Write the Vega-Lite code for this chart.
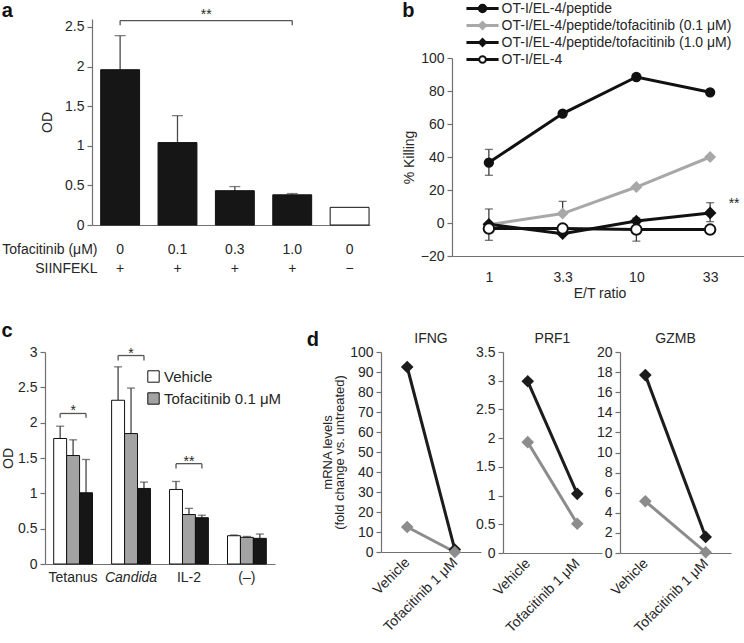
{
  "$schema": "https://vega.github.io/schema/vega-lite/v6.json",
  "padding": 0,
  "background": "white",
  "config": {
    "font": "Liberation Sans",
    "view": {"stroke": null},
    "axis": {"grid": false, "domainColor": "#707070", "tickColor": "#707070", "domainWidth": 1.2, "tickWidth": 1.2, "labelColor": "#262626", "titleColor": "#262626", "labelFontSize": 14, "titleFontSize": 14, "titleFontWeight": "normal", "labelFont": "Liberation Sans", "titleFont": "Liberation Sans", "tickSize": 5, "labelPadding": 3, "labelOverlap": false},
    "legend": {"labelFont": "Liberation Sans", "labelFontSize": 14, "labelColor": "#262626", "padding": 0, "labelLimit": 400},
    "title": {"font": "Liberation Sans", "fontSize": 20, "fontWeight": "bold", "color": "#111111", "anchor": "start", "frame": "bounds", "baseline": "alphabetic"},
    "text": {"font": "Liberation Sans", "color": "#262626"}
  },
  "datasets": {
    "empty": [],
    "a": [
      {"key": "0 +", "tofacitinib": "0", "pep": "+", "od": 1.96, "hi": 2.39},
      {"key": "0.1 +", "tofacitinib": "0.1", "pep": "+", "od": 1.04, "hi": 1.38},
      {"key": "0.3 +", "tofacitinib": "0.3", "pep": "+", "od": 0.433, "hi": 0.485},
      {"key": "1.0 +", "tofacitinib": "1.0", "pep": "+", "od": 0.381, "hi": 0.397},
      {"key": "0 −", "tofacitinib": "0", "pep": "−", "od": 0.223, "hi": null}
    ],
    "abr": [{"from": "0 +", "to": "1.0 +", "mid": "0.1 +", "y": 2.58, "yl": 2.52, "label": "**"}],
    "bleg": [
      {"series": "OT-I/EL-4/peptide"},
      {"series": "OT-I/EL-4/peptide/tofacitinib (0.1 μM)"},
      {"series": "OT-I/EL-4/peptide/tofacitinib (1.0 μM)"},
      {"series": "OT-I/EL-4"}
    ],
    "b": [
      {"series": "OT-I/EL-4/peptide", "et": "1", "val": 36.6},
      {"series": "OT-I/EL-4/peptide", "et": "3.3", "val": 66.3},
      {"series": "OT-I/EL-4/peptide", "et": "10", "val": 88.5},
      {"series": "OT-I/EL-4/peptide", "et": "33", "val": 79.2},
      {"series": "OT-I/EL-4/peptide/tofacitinib (0.1 μM)", "et": "1", "val": -1},
      {"series": "OT-I/EL-4/peptide/tofacitinib (0.1 μM)", "et": "3.3", "val": 5.7},
      {"series": "OT-I/EL-4/peptide/tofacitinib (0.1 μM)", "et": "10", "val": 21.8},
      {"series": "OT-I/EL-4/peptide/tofacitinib (0.1 μM)", "et": "33", "val": 40},
      {"series": "OT-I/EL-4/peptide/tofacitinib (1.0 μM)", "et": "1", "val": -0.8},
      {"series": "OT-I/EL-4/peptide/tofacitinib (1.0 μM)", "et": "3.3", "val": -6.5},
      {"series": "OT-I/EL-4/peptide/tofacitinib (1.0 μM)", "et": "10", "val": 1.2},
      {"series": "OT-I/EL-4/peptide/tofacitinib (1.0 μM)", "et": "33", "val": 6.1},
      {"series": "OT-I/EL-4", "et": "1", "val": -3.4},
      {"series": "OT-I/EL-4", "et": "3.3", "val": -3.4},
      {"series": "OT-I/EL-4", "et": "10", "val": -4},
      {"series": "OT-I/EL-4", "et": "33", "val": -4}
    ],
    "berr": [
      {"series": "OT-I/EL-4/peptide", "et": "1", "lo": 28.9, "hi": 44.6},
      {"series": "OT-I/EL-4/peptide/tofacitinib (0.1 μM)", "et": "3.3", "lo": 5.7, "hi": 13.1},
      {"series": "OT-I/EL-4/peptide/tofacitinib (1.0 μM)", "et": "1", "lo": -10.5, "hi": 8.5},
      {"series": "OT-I/EL-4/peptide/tofacitinib (1.0 μM)", "et": "33", "lo": 0.8, "hi": 12.3},
      {"series": "OT-I/EL-4", "et": "10", "lo": -11, "hi": 3}
    ],
    "bstar": [{"et": "33", "y": 8.9, "label": "**"}],
    "c": [
      {"cat": "Tetanus", "trt": "Vehicle", "od": 1.776, "hi": 1.95},
      {"cat": "Tetanus", "trt": "Tofacitinib 0.1 μM", "od": 1.535, "hi": 1.757},
      {"cat": "Tetanus", "trt": "Tofacitinib 1.0 μM", "od": 1.008, "hi": 1.479},
      {"cat": "Candida", "trt": "Vehicle", "od": 2.317, "hi": 2.79},
      {"cat": "Candida", "trt": "Tofacitinib 0.1 μM", "od": 1.846, "hi": 2.49},
      {"cat": "Candida", "trt": "Tofacitinib 1.0 μM", "od": 1.069, "hi": 1.159},
      {"cat": "IL-2", "trt": "Vehicle", "od": 1.055, "hi": 1.168},
      {"cat": "IL-2", "trt": "Tofacitinib 0.1 μM", "od": 0.70, "hi": 0.787},
      {"cat": "IL-2", "trt": "Tofacitinib 1.0 μM", "od": 0.655, "hi": 0.69},
      {"cat": "(–)", "trt": "Vehicle", "od": 0.40, "hi": 0.41},
      {"cat": "(–)", "trt": "Tofacitinib 0.1 μM", "od": 0.377, "hi": 0.39},
      {"cat": "(–)", "trt": "Tofacitinib 1.0 μM", "od": 0.363, "hi": 0.424}
    ],
    "cbr": [
      {"cat": "Tetanus", "y": 2.13, "yl": 2.068, "label": "*"},
      {"cat": "Candida", "y": 2.95, "yl": 2.88, "label": "*"},
      {"cat": "IL-2", "y": 1.42, "yl": 1.35, "label": "**"}
    ],
    "d": [
      {"gene": "IFNG", "cond": "Vehicle", "grp": "Donor A", "val": 92.5},
      {"gene": "IFNG", "cond": "Tofacitinib 1 μM", "grp": "Donor A", "val": 1.2},
      {"gene": "PRF1", "cond": "Vehicle", "grp": "Donor A", "val": 2.99},
      {"gene": "PRF1", "cond": "Tofacitinib 1 μM", "grp": "Donor A", "val": 1.03},
      {"gene": "GZMB", "cond": "Vehicle", "grp": "Donor A", "val": 17.7},
      {"gene": "GZMB", "cond": "Tofacitinib 1 μM", "grp": "Donor A", "val": 1.6},
      {"gene": "IFNG", "cond": "Vehicle", "grp": "Donor B", "val": 12.5},
      {"gene": "IFNG", "cond": "Tofacitinib 1 μM", "grp": "Donor B", "val": 0},
      {"gene": "PRF1", "cond": "Vehicle", "grp": "Donor B", "val": 1.93},
      {"gene": "PRF1", "cond": "Tofacitinib 1 μM", "grp": "Donor B", "val": 0.51},
      {"gene": "GZMB", "cond": "Vehicle", "grp": "Donor B", "val": 5.15},
      {"gene": "GZMB", "cond": "Tofacitinib 1 μM", "grp": "Donor B", "val": 0.07}
    ]
  },
  "align": "none",
  "bounds": "full",
  "spacing": 21,
  "resolve": {
    "scale": {"fill": "independent", "stroke": "independent", "shape": "independent", "size": "independent", "color": "independent"},
    "legend": {"fill": "independent", "stroke": "independent", "shape": "independent", "size": "independent", "color": "independent"}
  },
  "vconcat": [
    {
      "align": "none",
      "bounds": "full",
      "spacing": 0,
      "resolve": {
        "scale": {"fill": "independent", "stroke": "independent", "shape": "independent", "size": "independent", "color": "independent"},
        "legend": {"fill": "independent", "stroke": "independent", "shape": "independent", "size": "independent", "color": "independent"}
      },
      "hconcat": [
        {"width": 1, "height": 1, "data": {"name": "empty"}, "mark": "point"},
        {
          "align": "none",
          "bounds": "full",
          "spacing": 32,
          "resolve": {
            "scale": {"fill": "independent", "stroke": "independent", "shape": "independent", "size": "independent", "color": "independent"},
            "legend": {"fill": "independent", "stroke": "independent", "shape": "independent", "size": "independent", "color": "independent"}
          },
          "hconcat": [
            {
              "title": {"text": "a", "offset": -20.5},
              "align": "none",
              "bounds": "full",
              "spacing": 6,
              "resolve": {
                "scale": {"fill": "independent"},
                "legend": {"fill": "independent"}
              },
              "vconcat": [
                {"width": 1, "height": 1, "data": {"name": "empty"}, "mark": "point"},
                {
                  "width": 278,
                  "height": 206,
                  "data": {"name": "a"},
                  "layer": [
                    {
                      "transform": [{"filter": "datum.hi != null"}],
                      "mark": {"type": "rule", "color": "#4a4a4a", "strokeWidth": 1.3},
                      "encoding": {
                        "x": {"field": "key", "type": "nominal", "scale": {"domain": ["0 +", "0.1 +", "0.3 +", "1.0 +", "0 −"], "paddingInner": 0.322, "paddingOuter": 0.084, "align": 0.9}, "axis": {"title": ["Tofacitinib (μM)", "SIINFEKL"], "titleAlign": "right", "titleAnchor": "start", "titleX": 5, "titleY": 17, "titleBaseline": "top", "titleLineHeight": 19, "titleAngle": 0, "labelExpr": "split(datum.value, ' ')", "labelLineHeight": 19, "labelPadding": 17, "labelBaseline": "top", "ticks": false, "labelAngle": 0}},
                        "y": {"field": "od", "type": "quantitative", "title": "OD", "scale": {"domain": [0, 2.5]}, "axis": {"values": [0, 0.5, 1, 1.5, 2, 2.5], "format": "~g", "title": "OD", "titlePadding": 10}},
                        "y2": {"field": "hi"}
                      }
                    },
                    {
                      "transform": [{"filter": "datum.hi != null"}],
                      "mark": {"type": "tick", "orient": "horizontal", "size": 11, "thickness": 1.3, "color": "#4a4a4a"},
                      "encoding": {
                        "x": {"field": "key", "type": "nominal", "scale": {"domain": ["0 +", "0.1 +", "0.3 +", "1.0 +", "0 −"]}},
                        "y": {"field": "hi", "type": "quantitative", "title": "OD"}
                      }
                    },
                    {
                      "mark": {"type": "bar", "stroke": "#111111", "strokeWidth": 1},
                      "encoding": {
                        "x": {"field": "key", "type": "nominal", "scale": {"domain": ["0 +", "0.1 +", "0.3 +", "1.0 +", "0 −"]}},
                        "y": {"field": "od", "type": "quantitative", "title": "OD"},
                        "fill": {"field": "pep", "type": "nominal", "scale": {"domain": ["+", "−"], "range": ["#161616", "#ffffff"]}, "legend": null}
                      }
                    },
                    {
                      "data": {"name": "abr"},
                      "mark": {"type": "rule", "color": "#555555", "strokeWidth": 1.3},
                      "encoding": {
                        "x": {"field": "from", "type": "nominal", "scale": {"domain": ["0 +", "0.1 +", "0.3 +", "1.0 +", "0 −"]}},
                        "x2": {"field": "to"},
                        "y": {"field": "y", "type": "quantitative", "title": "OD"}
                      }
                    },
                    {
                      "data": {"name": "abr"},
                      "mark": {"type": "rule", "color": "#555555", "strokeWidth": 1.3},
                      "encoding": {
                        "x": {"field": "from", "type": "nominal", "scale": {"domain": ["0 +", "0.1 +", "0.3 +", "1.0 +", "0 −"]}},
                        "y": {"field": "y", "type": "quantitative", "title": "OD"},
                        "y2": {"field": "yl"}
                      }
                    },
                    {
                      "data": {"name": "abr"},
                      "mark": {"type": "rule", "color": "#555555", "strokeWidth": 1.3},
                      "encoding": {
                        "x": {"field": "to", "type": "nominal", "scale": {"domain": ["0 +", "0.1 +", "0.3 +", "1.0 +", "0 −"]}},
                        "y": {"field": "y", "type": "quantitative", "title": "OD"},
                        "y2": {"field": "yl"}
                      }
                    },
                    {
                      "data": {"name": "abr"},
                      "mark": {"type": "text", "fontSize": 14, "baseline": "alphabetic", "dy": -2},
                      "encoding": {
                        "x": {"field": "mid", "type": "nominal", "bandPosition": 1.237, "scale": {"domain": ["0 +", "0.1 +", "0.3 +", "1.0 +", "0 −"]}},
                        "y": {"field": "y", "type": "quantitative", "title": "OD"},
                        "text": {"field": "label"}
                      }
                    }
                  ]
                }
              ]
            },
            {
              "title": {"text": "b", "offset": -20.5},
              "align": "none",
              "bounds": "full",
              "spacing": -17,
              "resolve": {
                "scale": {"fill": "independent", "stroke": "independent", "shape": "independent", "size": "independent"},
                "legend": {"fill": "independent", "stroke": "independent", "shape": "independent", "size": "independent"}
              },
              "vconcat": [
                {
                  "width": 295,
                  "height": 68,
                  "data": {"name": "bleg"},
                  "encoding": {
                    "y": {"field": "series", "type": "nominal", "scale": {"type": "point", "domain": ["OT-I/EL-4/peptide", "OT-I/EL-4/peptide/tofacitinib (0.1 μM)", "OT-I/EL-4/peptide/tofacitinib (1.0 μM)", "OT-I/EL-4"], "padding": 0.5}, "axis": null}
                  },
                  "layer": [
                    {
                      "mark": {"type": "rule", "strokeWidth": 3},
                      "encoding": {
                        "x": {"datum": 0.049, "type": "quantitative", "scale": {"domain": [0, 1]}, "axis": null},
                        "x2": {"datum": 0.158},
                        "stroke": {"field": "series", "type": "nominal", "scale": {"domain": ["OT-I/EL-4/peptide", "OT-I/EL-4/peptide/tofacitinib (0.1 μM)", "OT-I/EL-4/peptide/tofacitinib (1.0 μM)", "OT-I/EL-4"], "range": ["#111111", "#a8a8a8", "#111111", "#111111"]}, "legend": null}
                      }
                    },
                    {
                      "mark": {"type": "point", "strokeWidth": 2, "opacity": 1},
                      "encoding": {
                        "x": {"datum": 0.1035, "type": "quantitative", "scale": {"domain": [0, 1]}, "axis": null},
                        "stroke": {"field": "series", "type": "nominal", "scale": {"domain": ["OT-I/EL-4/peptide", "OT-I/EL-4/peptide/tofacitinib (0.1 μM)", "OT-I/EL-4/peptide/tofacitinib (1.0 μM)", "OT-I/EL-4"], "range": ["#111111", "#a8a8a8", "#111111", "#111111"]}, "legend": null},
                        "fill": {"field": "series", "type": "nominal", "scale": {"domain": ["OT-I/EL-4/peptide", "OT-I/EL-4/peptide/tofacitinib (0.1 μM)", "OT-I/EL-4/peptide/tofacitinib (1.0 μM)", "OT-I/EL-4"], "range": ["#111111", "#a8a8a8", "#111111", "#ffffff"]}, "legend": null},
                        "shape": {"field": "series", "type": "nominal", "scale": {"domain": ["OT-I/EL-4/peptide", "OT-I/EL-4/peptide/tofacitinib (0.1 μM)", "OT-I/EL-4/peptide/tofacitinib (1.0 μM)", "OT-I/EL-4"], "range": ["circle", "diamond", "diamond", "circle"]}, "legend": null},
                        "size": {"field": "series", "type": "nominal", "scale": {"domain": ["OT-I/EL-4/peptide", "OT-I/EL-4/peptide/tofacitinib (0.1 μM)", "OT-I/EL-4/peptide/tofacitinib (1.0 μM)", "OT-I/EL-4"], "range": [55, 45, 45, 45]}, "legend": null}
                      }
                    },
                    {
                      "mark": {"type": "text", "align": "left", "baseline": "middle", "fontSize": 14},
                      "encoding": {
                        "x": {"datum": 0.168, "type": "quantitative", "scale": {"domain": [0, 1]}, "axis": null},
                        "text": {"field": "series"}
                      }
                    }
                  ]
                },
                {
                  "width": 295,
                  "height": 198,
                  "layer": [
                    {
                      "data": {"name": "berr"},
                      "mark": {"type": "rule", "color": "#3a3a3a", "strokeWidth": 1.3},
                      "encoding": {
                        "x": {"field": "et", "type": "ordinal", "scale": {"type": "point", "domain": ["1", "3.3", "10", "33"], "padding": 0.5}, "axis": {"title": "E/T ratio", "ticks": false, "labelPadding": 14, "titlePadding": 2, "labelAngle": 0}},
                        "y": {"field": "lo", "type": "quantitative", "title": "% Killing", "scale": {"domain": [-20, 100]}, "axis": {"values": [-20, 0, 20, 40, 60, 80, 100], "title": "% Killing", "titlePadding": 4, "format": "d", "labelOverlap": false, "labelSeparation": 0}},
                        "y2": {"field": "hi"}
                      }
                    },
                    {
                      "data": {"name": "berr"},
                      "mark": {"type": "tick", "orient": "horizontal", "size": 8, "thickness": 1.3, "color": "#3a3a3a"},
                      "encoding": {
                        "x": {"field": "et", "type": "ordinal", "scale": {"type": "point", "domain": ["1", "3.3", "10", "33"], "padding": 0.5}, "axis": {"title": "E/T ratio", "ticks": false, "labelPadding": 14, "titlePadding": 2, "labelAngle": 0}},
                        "y": {"field": "lo", "type": "quantitative", "title": "% Killing", "scale": {"domain": [-20, 100]}, "axis": {"values": [-20, 0, 20, 40, 60, 80, 100], "title": "% Killing", "titlePadding": 4, "format": "d", "labelOverlap": false, "labelSeparation": 0}}
                      }
                    },
                    {
                      "data": {"name": "berr"},
                      "mark": {"type": "tick", "orient": "horizontal", "size": 8, "thickness": 1.3, "color": "#3a3a3a"},
                      "encoding": {
                        "x": {"field": "et", "type": "ordinal", "scale": {"type": "point", "domain": ["1", "3.3", "10", "33"], "padding": 0.5}, "axis": {"title": "E/T ratio", "ticks": false, "labelPadding": 14, "titlePadding": 2, "labelAngle": 0}},
                        "y": {"field": "hi", "type": "quantitative", "title": "% Killing", "scale": {"domain": [-20, 100]}, "axis": {"values": [-20, 0, 20, 40, 60, 80, 100], "title": "% Killing", "titlePadding": 4, "format": "d", "labelOverlap": false, "labelSeparation": 0}}
                      }
                    },
                    {
                      "data": {"name": "b"},
                      "mark": {"type": "line", "strokeWidth": 3},
                      "encoding": {
                        "x": {"field": "et", "type": "ordinal", "scale": {"type": "point", "domain": ["1", "3.3", "10", "33"], "padding": 0.5}, "axis": {"title": "E/T ratio", "ticks": false, "labelPadding": 14, "titlePadding": 2, "labelAngle": 0}},
                        "y": {"field": "val", "type": "quantitative", "title": "% Killing", "scale": {"domain": [-20, 100]}, "axis": {"values": [-20, 0, 20, 40, 60, 80, 100], "title": "% Killing", "titlePadding": 4, "format": "d", "labelOverlap": false, "labelSeparation": 0}},
                        "stroke": {"field": "series", "type": "nominal", "scale": {"domain": ["OT-I/EL-4/peptide", "OT-I/EL-4/peptide/tofacitinib (0.1 μM)", "OT-I/EL-4/peptide/tofacitinib (1.0 μM)", "OT-I/EL-4"], "range": ["#111111", "#a8a8a8", "#111111", "#111111"]}, "legend": null}
                      }
                    },
                    {
                      "data": {"name": "b"},
                      "mark": {"type": "point", "strokeWidth": 2, "opacity": 1},
                      "encoding": {
                        "x": {"field": "et", "type": "ordinal", "scale": {"type": "point", "domain": ["1", "3.3", "10", "33"], "padding": 0.5}, "axis": {"title": "E/T ratio", "ticks": false, "labelPadding": 14, "titlePadding": 2, "labelAngle": 0}},
                        "y": {"field": "val", "type": "quantitative", "title": "% Killing", "scale": {"domain": [-20, 100]}, "axis": {"values": [-20, 0, 20, 40, 60, 80, 100], "title": "% Killing", "titlePadding": 4, "format": "d", "labelOverlap": false, "labelSeparation": 0}},
                        "stroke": {"field": "series", "type": "nominal", "scale": {"domain": ["OT-I/EL-4/peptide", "OT-I/EL-4/peptide/tofacitinib (0.1 μM)", "OT-I/EL-4/peptide/tofacitinib (1.0 μM)", "OT-I/EL-4"], "range": ["#111111", "#a8a8a8", "#111111", "#111111"]}, "legend": null},
                        "fill": {"field": "series", "type": "nominal", "scale": {"domain": ["OT-I/EL-4/peptide", "OT-I/EL-4/peptide/tofacitinib (0.1 μM)", "OT-I/EL-4/peptide/tofacitinib (1.0 μM)", "OT-I/EL-4"], "range": ["#111111", "#a8a8a8", "#111111", "#ffffff"]}, "legend": null},
                        "shape": {"field": "series", "type": "nominal", "scale": {"domain": ["OT-I/EL-4/peptide", "OT-I/EL-4/peptide/tofacitinib (0.1 μM)", "OT-I/EL-4/peptide/tofacitinib (1.0 μM)", "OT-I/EL-4"], "range": ["circle", "diamond", "diamond", "circle"]}, "legend": null},
                        "size": {"field": "series", "type": "nominal", "scale": {"domain": ["OT-I/EL-4/peptide", "OT-I/EL-4/peptide/tofacitinib (0.1 μM)", "OT-I/EL-4/peptide/tofacitinib (1.0 μM)", "OT-I/EL-4"], "range": [70, 110, 100, 50]}, "legend": null}
                      }
                    },
                    {
                      "data": {"name": "bstar"},
                      "mark": {"type": "text", "dx": 24, "fontSize": 14, "baseline": "alphabetic"},
                      "encoding": {
                        "x": {"field": "et", "type": "ordinal", "scale": {"type": "point", "domain": ["1", "3.3", "10", "33"], "padding": 0.5}, "axis": {"title": "E/T ratio", "ticks": false, "labelPadding": 14, "titlePadding": 2, "labelAngle": 0}},
                        "y": {"field": "y", "type": "quantitative", "title": "% Killing", "scale": {"domain": [-20, 100]}, "axis": {"values": [-20, 0, 20, 40, 60, 80, 100], "title": "% Killing", "titlePadding": 4, "format": "d", "labelOverlap": false, "labelSeparation": 0}},
                        "text": {"field": "label"}
                      }
                    }
                  ]
                }
              ]
            }
          ]
        }
      ]
    },
    {
      "align": "none",
      "bounds": "full",
      "spacing": 0,
      "resolve": {
        "scale": {"fill": "independent", "stroke": "independent", "shape": "independent", "size": "independent", "color": "independent"},
        "legend": {"fill": "independent", "stroke": "independent", "shape": "independent", "size": "independent", "color": "independent"}
      },
      "hconcat": [
        {"width": 1, "height": 1, "data": {"name": "empty"}, "mark": "point"},
        {
          "align": "none",
          "bounds": "full",
          "spacing": 24,
          "resolve": {
            "scale": {"fill": "independent", "stroke": "independent", "shape": "independent", "size": "independent", "color": "independent"},
            "legend": {"fill": "independent", "stroke": "independent", "shape": "independent", "size": "independent", "color": "independent"}
          },
          "hconcat": [
            {
              "title": {"text": " c", "dx": 0, "offset": 4},
              "width": 230,
              "height": 212,
              "layer": [
                {
                  "data": {"name": "c"},
                  "mark": {"type": "rule", "color": "#444444", "strokeWidth": 1.3},
                  "encoding": {
                    "x": {"field": "cat", "type": "nominal", "scale": {"domain": ["Tetanus", "Candida", "IL-2", "(–)"], "paddingInner": 0.33, "paddingOuter": 0.15}, "axis": {"title": null, "ticks": false, "labelAngle": 0, "labelPadding": 6, "labelFontStyle": {"condition": {"test": "datum.value == 'Candida'", "value": "italic"}, "value": "normal"}}},
                    "xOffset": {"field": "trt", "type": "nominal", "scale": {"domain": ["Vehicle", "Tofacitinib 0.1 μM", "Tofacitinib 1.0 μM"], "paddingInner": 0, "paddingOuter": 0}},
                    "y": {"field": "od", "type": "quantitative", "title": "OD", "scale": {"domain": [0, 3]}, "axis": {"values": [0, 0.5, 1, 1.5, 2, 2.5, 3], "format": "~g", "title": "OD", "titlePadding": 2, "labelOverlap": false, "labelSeparation": 0}},
                    "y2": {"field": "hi"}
                  }
                },
                {
                  "data": {"name": "c"},
                  "mark": {"type": "tick", "orient": "horizontal", "size": 8, "thickness": 1.3, "color": "#444444"},
                  "encoding": {
                    "x": {"field": "cat", "type": "nominal", "scale": {"domain": ["Tetanus", "Candida", "IL-2", "(–)"], "paddingInner": 0.33, "paddingOuter": 0.15}, "axis": {"title": null, "ticks": false, "labelAngle": 0, "labelPadding": 6, "labelFontStyle": {"condition": {"test": "datum.value == 'Candida'", "value": "italic"}, "value": "normal"}}},
                    "xOffset": {"field": "trt", "type": "nominal", "scale": {"domain": ["Vehicle", "Tofacitinib 0.1 μM", "Tofacitinib 1.0 μM"], "paddingInner": 0, "paddingOuter": 0}},
                    "y": {"field": "hi", "type": "quantitative", "title": "OD", "scale": {"domain": [0, 3]}, "axis": {"values": [0, 0.5, 1, 1.5, 2, 2.5, 3], "format": "~g", "title": "OD", "titlePadding": 2, "labelOverlap": false, "labelSeparation": 0}}
                  }
                },
                {
                  "data": {"name": "c"},
                  "mark": {"type": "bar", "stroke": "#111111", "strokeWidth": 1},
                  "encoding": {
                    "x": {"field": "cat", "type": "nominal", "scale": {"domain": ["Tetanus", "Candida", "IL-2", "(–)"], "paddingInner": 0.33, "paddingOuter": 0.15}, "axis": {"title": null, "ticks": false, "labelAngle": 0, "labelPadding": 6, "labelFontStyle": {"condition": {"test": "datum.value == 'Candida'", "value": "italic"}, "value": "normal"}}},
                    "xOffset": {"field": "trt", "type": "nominal", "scale": {"domain": ["Vehicle", "Tofacitinib 0.1 μM", "Tofacitinib 1.0 μM"], "paddingInner": 0, "paddingOuter": 0}},
                    "y": {"field": "od", "type": "quantitative", "title": "OD", "scale": {"domain": [0, 3]}, "axis": {"values": [0, 0.5, 1, 1.5, 2, 2.5, 3], "format": "~g", "title": "OD", "titlePadding": 2, "labelOverlap": false, "labelSeparation": 0}},
                    "fill": {"field": "trt", "type": "nominal", "scale": {"domain": ["Vehicle", "Tofacitinib 0.1 μM", "Tofacitinib 1.0 μM"], "range": ["#ffffff", "#a3a3a3", "#161616"]}, "legend": {"orient": "none", "legendX": 101, "legendY": 17, "title": null, "values": ["Vehicle", "Tofacitinib 0.1 μM"], "symbolType": "square", "symbolSize": 130, "symbolStrokeColor": "#111111", "symbolStrokeWidth": 1, "labelFontSize": 15, "rowPadding": 5, "labelOffset": 3, "padding": 0}}
                  }
                },
                {
                  "data": {"name": "cbr"},
                  "mark": {"type": "rule", "color": "#555555", "strokeWidth": 1.3},
                  "encoding": {
                    "x": {"field": "cat", "type": "nominal", "bandPosition": 0.1667, "scale": {"domain": ["Tetanus", "Candida", "IL-2", "(–)"], "paddingInner": 0.33, "paddingOuter": 0.15}, "axis": {"title": null, "ticks": false, "labelAngle": 0, "labelPadding": 6, "labelFontStyle": {"condition": {"test": "datum.value == 'Candida'", "value": "italic"}, "value": "normal"}}},
                    "x2": {"field": "cat", "bandPosition": 0.8333},
                    "y": {"field": "y", "type": "quantitative", "title": "OD", "scale": {"domain": [0, 3]}, "axis": {"values": [0, 0.5, 1, 1.5, 2, 2.5, 3], "format": "~g", "title": "OD", "titlePadding": 2, "labelOverlap": false, "labelSeparation": 0}}
                  }
                },
                {
                  "data": {"name": "cbr"},
                  "mark": {"type": "rule", "color": "#555555", "strokeWidth": 1.3},
                  "encoding": {
                    "x": {"field": "cat", "type": "nominal", "bandPosition": 0.1667, "scale": {"domain": ["Tetanus", "Candida", "IL-2", "(–)"], "paddingInner": 0.33, "paddingOuter": 0.15}, "axis": {"title": null, "ticks": false, "labelAngle": 0, "labelPadding": 6, "labelFontStyle": {"condition": {"test": "datum.value == 'Candida'", "value": "italic"}, "value": "normal"}}},
                    "y": {"field": "y", "type": "quantitative", "title": "OD", "scale": {"domain": [0, 3]}, "axis": {"values": [0, 0.5, 1, 1.5, 2, 2.5, 3], "format": "~g", "title": "OD", "titlePadding": 2, "labelOverlap": false, "labelSeparation": 0}},
                    "y2": {"field": "yl"}
                  }
                },
                {
                  "data": {"name": "cbr"},
                  "mark": {"type": "rule", "color": "#555555", "strokeWidth": 1.3},
                  "encoding": {
                    "x": {"field": "cat", "type": "nominal", "bandPosition": 0.8333, "scale": {"domain": ["Tetanus", "Candida", "IL-2", "(–)"], "paddingInner": 0.33, "paddingOuter": 0.15}, "axis": {"title": null, "ticks": false, "labelAngle": 0, "labelPadding": 6, "labelFontStyle": {"condition": {"test": "datum.value == 'Candida'", "value": "italic"}, "value": "normal"}}},
                    "y": {"field": "y", "type": "quantitative", "title": "OD", "scale": {"domain": [0, 3]}, "axis": {"values": [0, 0.5, 1, 1.5, 2, 2.5, 3], "format": "~g", "title": "OD", "titlePadding": 2, "labelOverlap": false, "labelSeparation": 0}},
                    "y2": {"field": "yl"}
                  }
                },
                {
                  "data": {"name": "cbr"},
                  "mark": {"type": "text", "fontSize": 14, "baseline": "alphabetic", "dy": 2},
                  "encoding": {
                    "x": {"field": "cat", "type": "nominal", "scale": {"domain": ["Tetanus", "Candida", "IL-2", "(–)"], "paddingInner": 0.33, "paddingOuter": 0.15}, "axis": {"title": null, "ticks": false, "labelAngle": 0, "labelPadding": 6, "labelFontStyle": {"condition": {"test": "datum.value == 'Candida'", "value": "italic"}, "value": "normal"}}},
                    "y": {"field": "y", "type": "quantitative", "title": "OD", "scale": {"domain": [0, 3]}, "axis": {"values": [0, 0.5, 1, 1.5, 2, 2.5, 3], "format": "~g", "title": "OD", "titlePadding": 2, "labelOverlap": false, "labelSeparation": 0}},
                    "text": {"field": "label"}
                  }
                }
              ]
            },
            {
              "title": {"text": "d", "dx": -15, "offset": -18},
              "align": "none",
              "bounds": "full",
              "spacing": -6,
              "resolve": {
                "scale": {"color": "independent"},
                "legend": {"color": "independent"}
              },
              "hconcat": [
                {
                  "title": {"text": "IFNG", "anchor": "middle", "frame": "group", "fontSize": 14, "fontWeight": "normal", "offset": -1, "color": "#262626"},
                  "width": 100,
                  "height": 200,
                  "data": {"name": "d"},
                  "transform": [{"filter": "datum.gene == 'IFNG'"}],
                  "encoding": {
                    "x": {"field": "cond", "type": "nominal", "scale": {"type": "point", "domain": ["Vehicle", "Tofacitinib 1 μM"], "padding": 0.55}, "axis": {"title": null, "ticks": false, "labelAngle": -45, "labelAlign": "right", "labelBaseline": "middle", "labelPadding": 8}},
                    "y": {"field": "val", "type": "quantitative", "scale": {"domain": [0, 100]}, "axis": {"values": [0, 10, 20, 30, 40, 50, 60, 70, 80, 90, 100], "title": ["mRNA levels", "(fold change vs. untreated)"], "titleFontSize": 13, "titleLineHeight": 12, "titlePadding": 3}},
                    "color": {"field": "grp", "type": "nominal", "scale": {"domain": ["Donor A", "Donor B"], "range": ["#1c1c1c", "#8c8c8c"]}, "legend": null}
                  },
                  "layer": [
                    {"mark": {"type": "line", "strokeWidth": 3}},
                    {"mark": {"type": "point", "shape": "diamond", "filled": true, "size": 160, "opacity": 1}}
                  ]
                },
                {
                  "title": {"text": "PRF1", "anchor": "middle", "frame": "group", "fontSize": 14, "fontWeight": "normal", "offset": -1, "color": "#262626"},
                  "width": 99,
                  "height": 201,
                  "data": {"name": "d"},
                  "transform": [{"filter": "datum.gene == 'PRF1'"}],
                  "encoding": {
                    "x": {"field": "cond", "type": "nominal", "scale": {"type": "point", "domain": ["Vehicle", "Tofacitinib 1 μM"], "padding": 0.5}, "axis": {"title": null, "ticks": false, "labelAngle": -45, "labelAlign": "right", "labelBaseline": "middle", "labelPadding": 8}},
                    "y": {"field": "val", "type": "quantitative", "scale": {"domain": [0, 3.5]}, "axis": {"values": [0, 0.5, 1, 1.5, 2, 2.5, 3, 3.5], "format": "~g", "title": null}},
                    "color": {"field": "grp", "type": "nominal", "scale": {"domain": ["Donor A", "Donor B"], "range": ["#1c1c1c", "#8c8c8c"]}, "legend": null}
                  },
                  "layer": [
                    {"mark": {"type": "line", "strokeWidth": 3}},
                    {"mark": {"type": "point", "shape": "diamond", "filled": true, "size": 160, "opacity": 1}}
                  ]
                },
                {
                  "title": {"text": "GZMB", "anchor": "middle", "frame": "group", "fontSize": 14, "fontWeight": "normal", "offset": -1, "color": "#262626"},
                  "width": 111,
                  "height": 201,
                  "data": {"name": "d"},
                  "transform": [{"filter": "datum.gene == 'GZMB'"}],
                  "encoding": {
                    "x": {"field": "cond", "type": "nominal", "scale": {"type": "point", "domain": ["Vehicle", "Tofacitinib 1 μM"], "padding": 0.42}, "axis": {"title": null, "ticks": false, "labelAngle": -45, "labelAlign": "right", "labelBaseline": "middle", "labelPadding": 8}},
                    "y": {"field": "val", "type": "quantitative", "scale": {"domain": [0, 20]}, "axis": {"values": [0, 2, 4, 6, 8, 10, 12, 14, 16, 18, 20], "title": null}},
                    "color": {"field": "grp", "type": "nominal", "scale": {"domain": ["Donor A", "Donor B"], "range": ["#1c1c1c", "#8c8c8c"]}, "legend": null}
                  },
                  "layer": [
                    {"mark": {"type": "line", "strokeWidth": 3}},
                    {"mark": {"type": "point", "shape": "diamond", "filled": true, "size": 160, "opacity": 1}}
                  ]
                }
              ]
            }
          ]
        }
      ]
    }
  ]
}
